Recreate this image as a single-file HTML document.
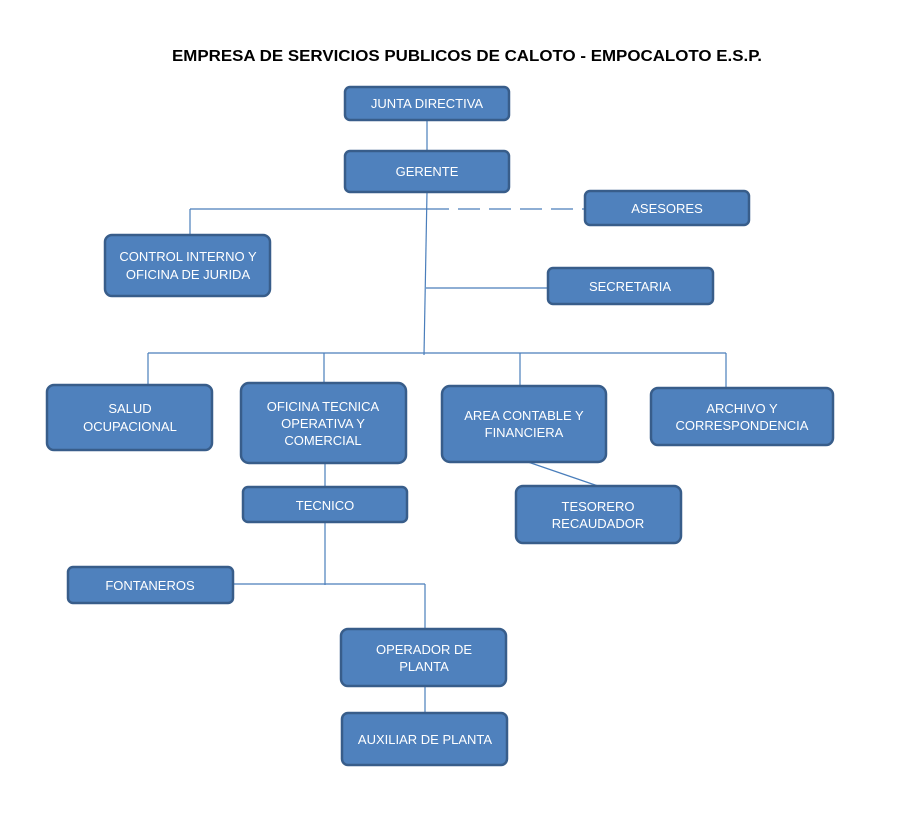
<!DOCTYPE html>
<html><head><meta charset="utf-8"><style>
html,body{margin:0;padding:0;background:#fff;}
svg{display:block}
text{font-family:"Liberation Sans",sans-serif;}
.b{fill:#4f81bd;stroke:#385d8a;stroke-width:2.5}
.t{fill:#fff;font-size:13px;text-anchor:middle}
.l{stroke:#4a7ebb;stroke-width:1.2;fill:none}
</style></head><body>
<svg width="901" height="827" viewBox="0 0 901 827">
<text x="467" y="61" font-size="16" font-weight="bold" text-anchor="middle" textLength="590" lengthAdjust="spacingAndGlyphs" fill="#000">EMPRESA DE SERVICIOS PUBLICOS DE CALOTO - EMPOCALOTO E.S.P.</text>
<g class="l">
<line x1="427" y1="120" x2="427" y2="151"/>
<line x1="427" y1="192" x2="424" y2="355"/>
<line x1="190" y1="209" x2="427" y2="209"/>
<line x1="427" y1="209" x2="585" y2="209" stroke-dasharray="22,9"/>
<line x1="190" y1="209" x2="190" y2="235"/>
<line x1="426" y1="288" x2="548" y2="288"/>
<line x1="148" y1="353" x2="726" y2="353"/>
<line x1="148" y1="353" x2="148" y2="385"/>
<line x1="324" y1="353" x2="324" y2="383"/>
<line x1="520" y1="353" x2="520" y2="386"/>
<line x1="726" y1="353" x2="726" y2="388"/>
<line x1="528" y1="462" x2="598" y2="486"/>
<line x1="325" y1="463" x2="325" y2="487"/>
<line x1="325" y1="522" x2="325" y2="585"/>
<line x1="233" y1="584" x2="425" y2="584"/>
<line x1="425" y1="584" x2="425" y2="629"/>
<line x1="425" y1="686" x2="425" y2="713"/>
</g>
<rect class="b" x="345" y="87" width="164" height="33" rx="5"/>
<text class="t" x="427" y="108">JUNTA DIRECTIVA</text>
<rect class="b" x="345" y="151" width="164" height="41" rx="5"/>
<text class="t" x="427" y="176">GERENTE</text>
<rect class="b" x="585" y="191" width="164" height="34" rx="5"/>
<text class="t" x="667" y="213">ASESORES</text>
<rect class="b" x="105" y="235" width="165" height="61" rx="7"/>
<text class="t" x="188" y="261" font-size="12">CONTROL INTERNO Y</text>
<text class="t" x="188" y="279" font-size="12">OFICINA DE JURIDA</text>
<rect class="b" x="548" y="268" width="165" height="36" rx="5"/>
<text class="t" x="630" y="291">SECRETARIA</text>
<rect class="b" x="47" y="385" width="165" height="65" rx="7"/>
<text class="t" x="130" y="413">SALUD</text>
<text class="t" x="130" y="431">OCUPACIONAL</text>
<rect class="b" x="241" y="383" width="165" height="80" rx="8"/>
<text class="t" x="323" y="411">OFICINA TECNICA</text>
<text class="t" x="323" y="428">OPERATIVA Y</text>
<text class="t" x="323" y="445">COMERCIAL</text>
<rect class="b" x="442" y="386" width="164" height="76" rx="8"/>
<text class="t" x="524" y="420">AREA CONTABLE Y</text>
<text class="t" x="524" y="437">FINANCIERA</text>
<rect class="b" x="651" y="388" width="182" height="57" rx="7"/>
<text class="t" x="742" y="413">ARCHIVO Y</text>
<text class="t" x="742" y="430">CORRESPONDENCIA</text>
<rect class="b" x="243" y="487" width="164" height="35" rx="5"/>
<text class="t" x="325" y="510">TECNICO</text>
<rect class="b" x="516" y="486" width="165" height="57" rx="7"/>
<text class="t" x="598" y="511">TESORERO</text>
<text class="t" x="598" y="528">RECAUDADOR</text>
<rect class="b" x="68" y="567" width="165" height="36" rx="5"/>
<text class="t" x="150" y="590">FONTANEROS</text>
<rect class="b" x="341" y="629" width="165" height="57" rx="7"/>
<text class="t" x="424" y="654">OPERADOR DE</text>
<text class="t" x="424" y="671">PLANTA</text>
<rect class="b" x="342" y="713" width="165" height="52" rx="6"/>
<text class="t" x="425" y="744">AUXILIAR DE PLANTA</text>
</svg>
</body></html>
